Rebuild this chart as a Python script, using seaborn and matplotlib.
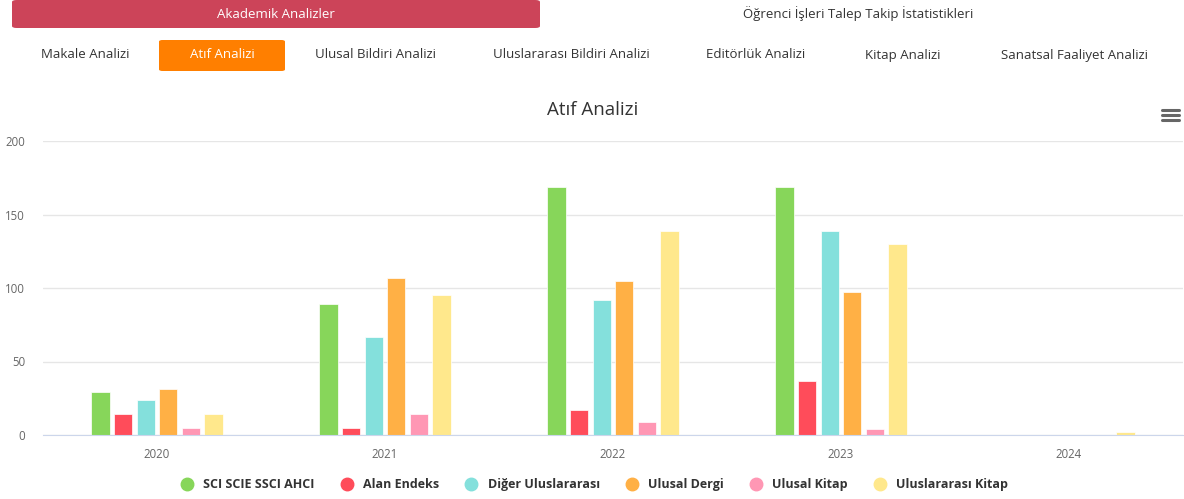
import pandas as pd
import matplotlib.pyplot as plt
import seaborn as sns
from matplotlib.patches import FancyBboxPatch
from matplotlib.lines import Line2D

# -----------------------------
# Veriler
# -----------------------------
years = ["2020", "2021", "2022", "2023", "2024"]
series = ["SCI SCIE SSCI AHCI", "Alan Endeks", "Diğer Uluslararası",
          "Ulusal Dergi", "Ulusal Kitap", "Uluslararası Kitap"]
sci = [29, 89, 169, 169, 0]
alan = [14, 5, 17, 37, 0]
diger = [24, 67, 92, 139, 0]
ulusal_dergi = [31, 107, 105, 97, 0]
ulusal_kitap = [5, 14, 9, 4, 0]
uluslararasi_kitap = [14, 95, 139, 130, 2]
colors = ["#87d65a", "#ff4c5a", "#84e0dc", "#ffb045", "#ff97b4", "#ffe88c"]

main_tabs = ["Akademik Analizler", "Öğrenci İşleri Talep Takip İstatistikleri"]
sub_tabs = ["Makale Analizi", "Atıf Analizi", "Ulusal Bildiri Analizi",
            "Uluslararası Bildiri Analizi", "Editörlük Analizi",
            "Kitap Analizi", "Sanatsal Faaliyet Analizi"]

values = [sci, alan, diger, ulusal_dergi, ulusal_kitap, uluslararasi_kitap]
rows = []
for s, vals in zip(series, values):
    for y, v in zip(years, vals):
        rows.append({"year": y, "series": s, "value": v})
df = pd.DataFrame(rows)

# -----------------------------
# Figura
# -----------------------------
sns.set_style("white")
plt.rcParams["font.family"] = ["Open Sans", "DejaVu Sans"]

W, H = 1184, 499
fig = plt.figure(figsize=(W / 100, H / 100), dpi=100)


def fx(px):
    return px / W


def fy(py):
    return 1 - py / H


# pestañas superiores
fig.patches.append(FancyBboxPatch((fx(12), fy(28)), fx(528), 28 / H,
                                  boxstyle="round,pad=0,rounding_size=0.004",
                                  transform=fig.transFigure, facecolor="#cc4459",
                                  edgecolor="none"))
fig.text(fx(276), fy(14), main_tabs[0], color="white", fontsize=9.5,
         ha="center", va="center")
fig.text(fx(858), fy(14), main_tabs[1], color="#333333", fontsize=9.5,
         ha="center", va="center")

fig.patches.append(FancyBboxPatch((fx(159), fy(71)), fx(126), 31 / H,
                                  boxstyle="round,pad=0,rounding_size=0.003",
                                  transform=fig.transFigure, facecolor="#ff7f00",
                                  edgecolor="none"))
sub_x = [85, 222, 375, 571, 756, 903, 1074]
for i, (t, x) in enumerate(zip(sub_tabs, sub_x)):
    fig.text(fx(x), fy(55), t, color="white" if i == 1 else "#333333",
             fontsize=9.5, ha="center", va="center")

# título e icono de menú
fig.text(fx(593), fy(110), "Atıf Analizi", color="#333333", fontsize=13.5,
         ha="center", va="center")
for yy in (110, 115, 120):
    fig.lines.append(Line2D([fx(1162), fx(1179)], [fy(yy), fy(yy)],
                            transform=fig.transFigure, color="#666666", lw=2.2,
                            solid_capstyle="round"))

# -----------------------------
# Gráfico de barras
# -----------------------------
ax = fig.add_axes([fx(43), fy(435), fx(1140), (435 - 141) / H])
sns.barplot(data=df, x="year", y="value", hue="series", hue_order=series,
            order=years, palette=colors, saturation=1, width=0.595, gap=0.2,
            edgecolor="white", linewidth=0.5, ax=ax, legend=True)

ax.set_ylim(0, 200)
ax.set_xlim(-0.5, 4.5)
ax.set_yticks([0, 50, 100, 150, 200])
ax.yaxis.grid(True, color="#e6e6e6", lw=1)
ax.set_axisbelow(True)
ax.set_xlabel("")
ax.set_ylabel("")
for side in ("top", "right", "left"):
    ax.spines[side].set_visible(False)
ax.spines["bottom"].set_color("#ccd6eb")
ax.tick_params(axis="both", length=0, labelsize=8.3, labelcolor="#666666")
ax.tick_params(axis="y", pad=13)
ax.tick_params(axis="x", pad=9)

handles = [Line2D([], [], marker="o", linestyle="none", markersize=9,
                  markerfacecolor=c, markeredgecolor=c) for c in colors]
ax.legend(handles, series, loc="center", bbox_to_anchor=(0.481, -0.17),
          ncol=6, frameon=False, handletextpad=0.3, columnspacing=1.57,
          prop={"weight": "bold", "size": 9}, labelcolor="#333333")

fig.savefig("out.png", dpi=100)
